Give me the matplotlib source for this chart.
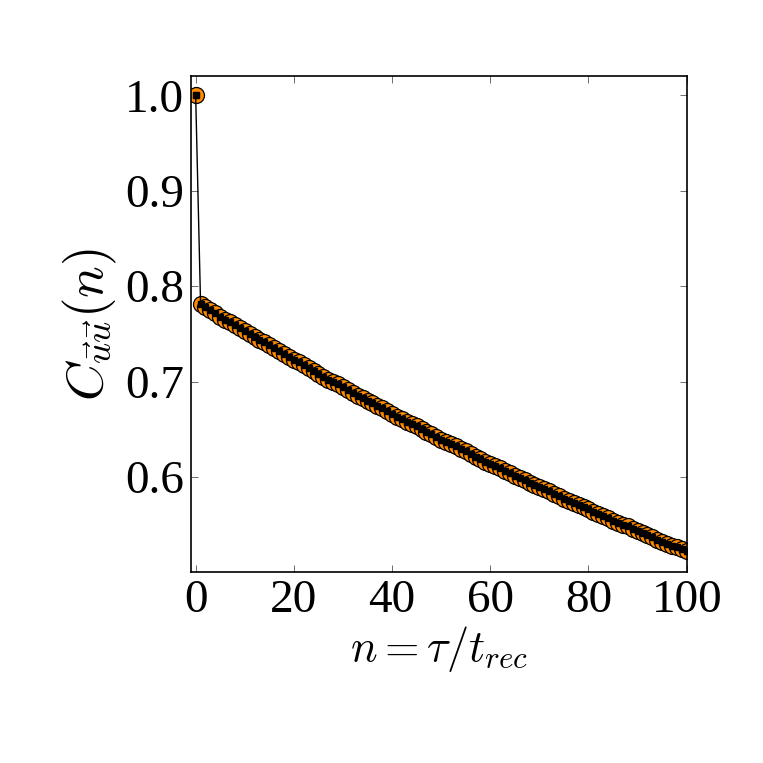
import matplotlib
matplotlib.use("Agg")
import matplotlib.pyplot as plt

# lag n (units of t_rec) and autocorrelation C_uu(n)
n_lag = list(range(0, 101))
c_uu = [
    1.000,
    0.781, 0.778, 0.775, 0.772, 0.768, 0.765, 0.762, 0.759, 0.756, 0.753,
    0.750, 0.747, 0.744, 0.741, 0.738, 0.735, 0.732, 0.729, 0.726, 0.723,
    0.720, 0.717, 0.714, 0.711, 0.708, 0.705, 0.702, 0.700, 0.697, 0.694,
    0.691, 0.688, 0.685, 0.683, 0.680, 0.677, 0.674, 0.672, 0.669, 0.666,
    0.663, 0.661, 0.658, 0.655, 0.653, 0.650, 0.647, 0.645, 0.642, 0.639,
    0.637, 0.634, 0.632, 0.629, 0.627, 0.624, 0.621, 0.619, 0.616, 0.614,
    0.611, 0.609, 0.606, 0.604, 0.601, 0.599, 0.597, 0.594, 0.592, 0.589,
    0.587, 0.585, 0.582, 0.580, 0.577, 0.575, 0.573, 0.570, 0.568, 0.566,
    0.563, 0.561, 0.559, 0.557, 0.554, 0.552, 0.550, 0.548, 0.545, 0.543,
    0.541, 0.539, 0.537, 0.534, 0.532, 0.530, 0.528, 0.526, 0.524, 0.522,
]
x_ticks = [0, 20, 40, 60, 80, 100]
y_ticks = [0.6, 0.7, 0.8, 0.9, 1.0]

plt.rcParams["font.family"] = ["Liberation Serif", "DejaVu Serif"]
plt.rcParams["mathtext.fontset"] = "cm"

fig = plt.figure(figsize=(7.63, 7.63), dpi=100)
ax = fig.add_axes([0.25, 0.25, 0.65, 0.65])

ax.plot(n_lag, c_uu, "o", color="darkorange", markeredgecolor="black",
        markeredgewidth=0.9, markersize=11.5, zorder=2)
ax.plot(n_lag, c_uu, "s-", color="black", linewidth=1.0, markersize=4.5,
        zorder=3)

ax.set_xlim(-1, 100)
ax.set_ylim(0.50, 1.02)
ax.set_xticks(x_ticks)
ax.set_yticks(y_ticks)
ax.set_xticklabels([str(t) for t in x_ticks])
ax.set_yticklabels([f"{t:.1f}" for t in y_ticks])
ax.tick_params(direction="in", top=True, right=True, length=5, width=0.6,
               color="#555555", labelsize=34, pad=5)
for sp in ax.spines.values():
    sp.set_linewidth(1.2)

ax.set_xlabel(r"$n = \tau / t_{rec}$", fontsize=32, labelpad=2)
ax.set_ylabel(r"$C_{\vec{u}\vec{u}}(n)$", fontsize=38, labelpad=4)

fig.savefig("out.png", dpi=100)
